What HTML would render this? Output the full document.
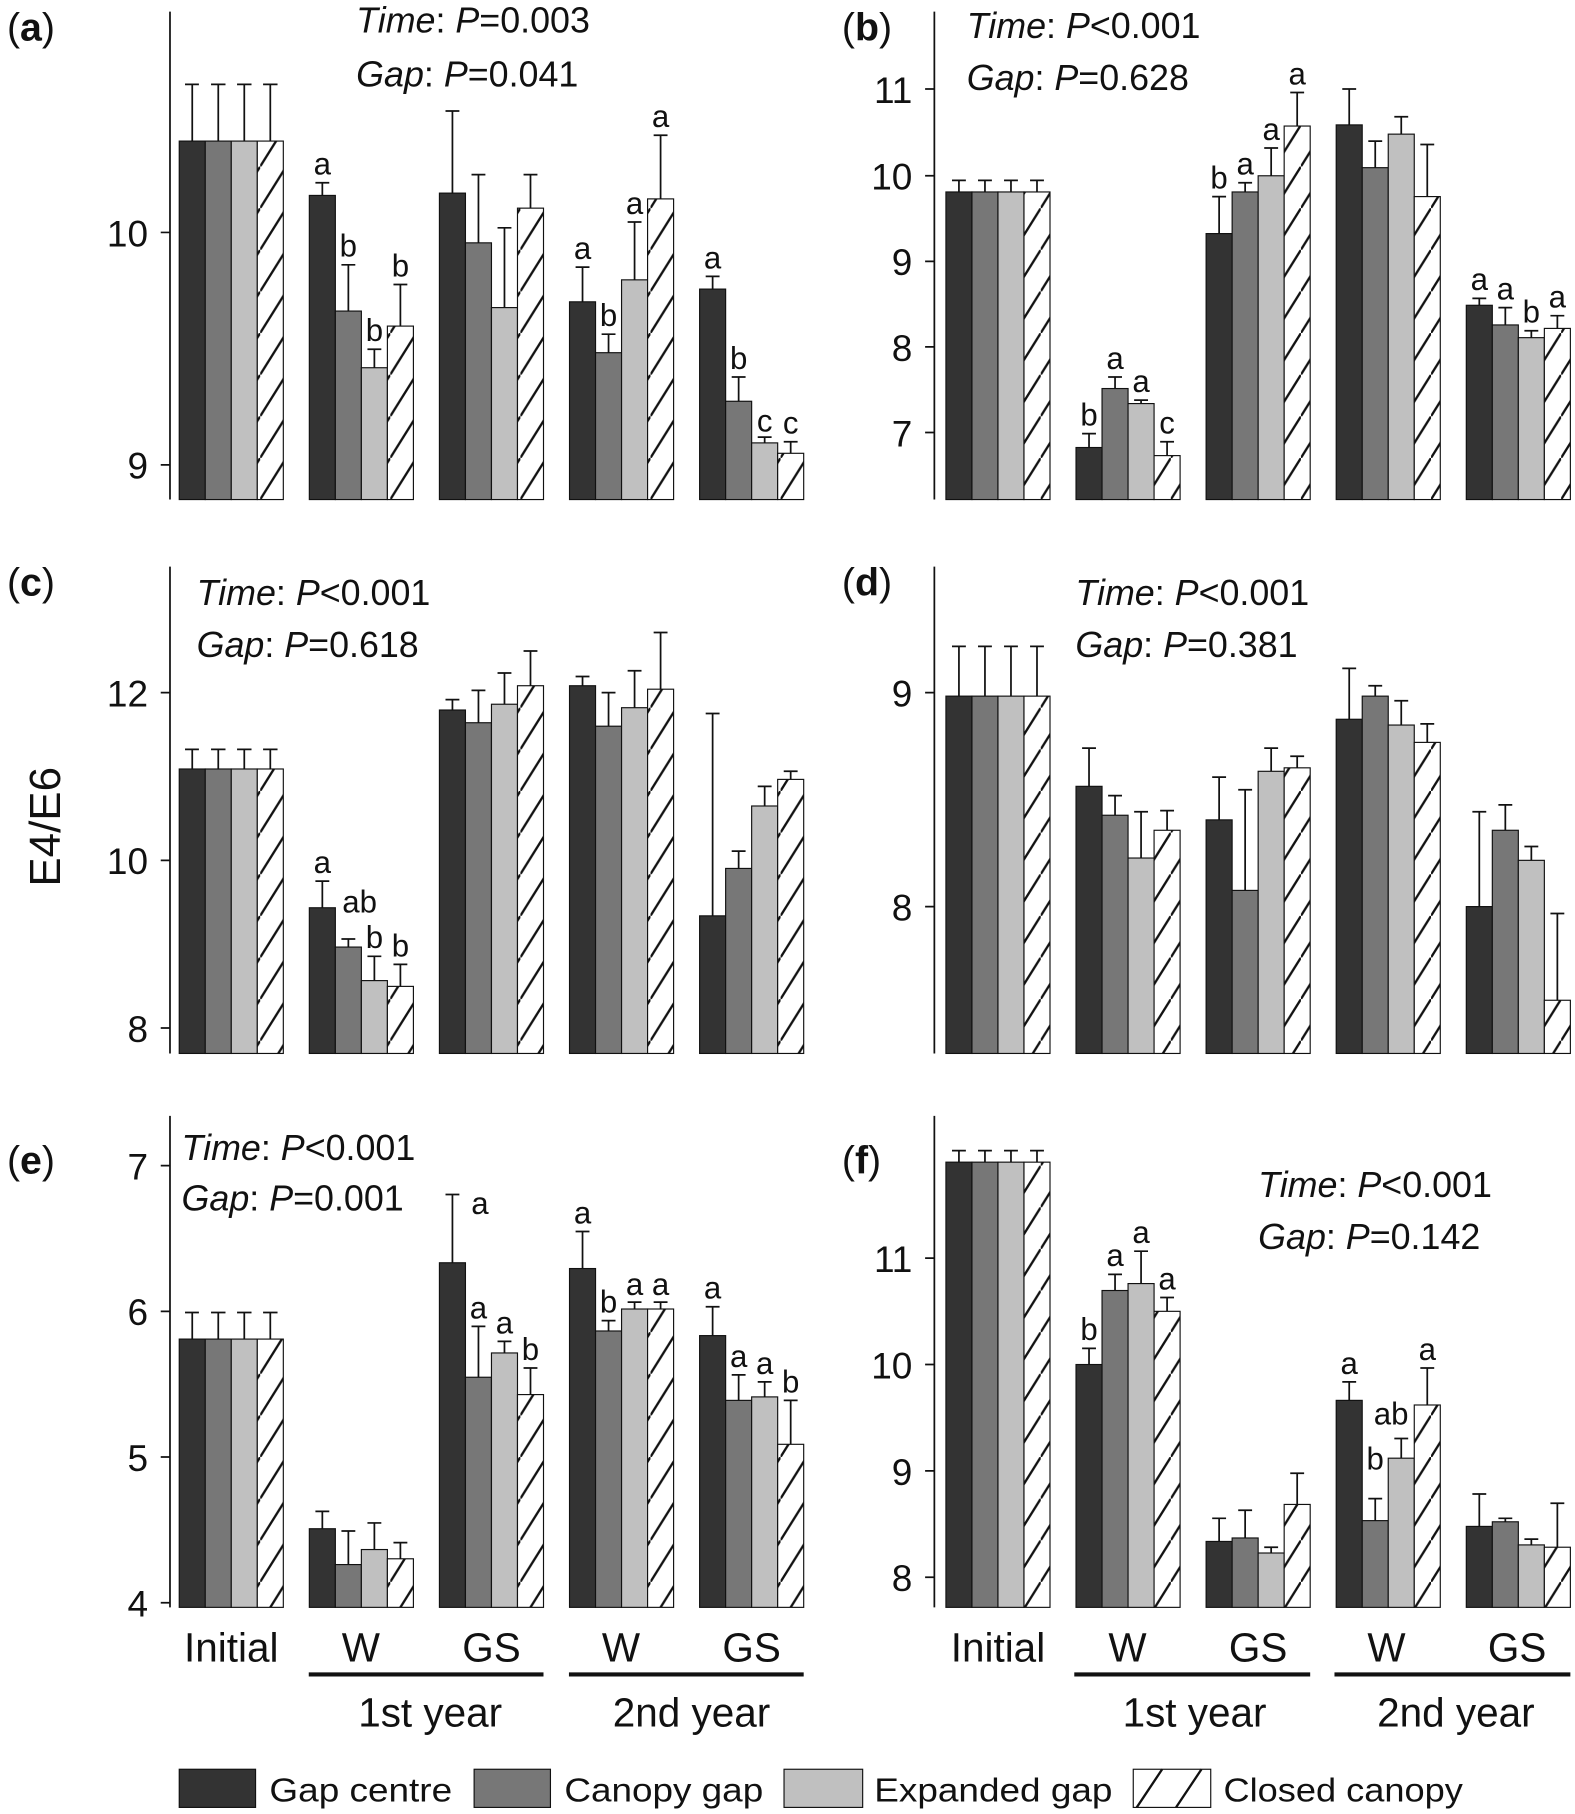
<!DOCTYPE html>
<html><head><meta charset="utf-8"><style>
html,body{margin:0;padding:0;background:#fff}
svg{display:block}
text{font-family:"Liberation Sans",Arial,sans-serif;fill:#111}
.c0{fill:#333;stroke:#111;stroke-width:1}
.c1{fill:#777;stroke:#111;stroke-width:1}
.c2{fill:#c0c0c0;stroke:#111;stroke-width:1}
.c3{fill:url(#h);stroke:#111;stroke-width:1}
.e{stroke:#111;stroke-width:1.5;fill:none}
.ax{stroke:#111;stroke-width:1.5;fill:none}
.l{font-size:27px;text-anchor:middle}
.t{font-size:32px;text-anchor:end}
.p{font-size:31px}
.x{font-size:35px;text-anchor:middle}
.lg{font-size:29px}
</style></head><body>
<svg width="1575" height="1814" viewBox="0 0 1362 1568.7" preserveAspectRatio="none" xmlns="http://www.w3.org/2000/svg">
<defs><pattern id="h" patternUnits="userSpaceOnUse" width="22.5" height="36"><rect width="22.5" height="36" fill="#fff"/><path d="M0,36 L22.5,0" stroke="#111" stroke-width="2"/></pattern></defs>

<!-- Panel a -->
<text x="6" y="35" style="font-size:34px">(<tspan font-weight="bold">a</tspan>)</text>
<text x="308" y="28" class="p"><tspan font-style="italic">Time</tspan>: <tspan font-style="italic">P</tspan>=0.003</text>
<text x="308" y="75" class="p"><tspan font-style="italic">Gap</tspan>: <tspan font-style="italic">P</tspan>=0.041</text>
<path class="ax" d="M147,10V432M139,201H147M139,402H147"/>
<text x="128" y="213" class="t">10</text><text x="128" y="414" class="t">9</text>
<rect class="c0" x="155" y="122" width="22.5" height="310"/><rect class="c1" x="177.5" y="122" width="22.5" height="310"/><rect class="c2" x="200" y="122" width="22.5" height="310"/><rect class="c3" x="222.5" y="122" width="22.5" height="310"/>
<path class="e" d="M166.25,73V122M160,73H172M188.75,73V122M182.5,73H195M211.25,73V122M205,73H217.5M233.75,73V122M227.5,73H240"/>
<rect class="c0" x="267.5" y="169" width="22.5" height="263"/><rect class="c1" x="290" y="269" width="22.5" height="163"/><rect class="c2" x="312.5" y="318" width="22.5" height="114"/><rect class="c3" x="335" y="282" width="22.5" height="150"/>
<path class="e" d="M278.75,158V169M272.75,158H284.75M301.25,229V269M295.25,229H307.25M323.75,302V318M317.75,302H329.75M346.25,246V282M340.25,246H352.25"/>
<text class="l" x="278.75" y="151">a</text><text class="l" x="301.25" y="222">b</text><text class="l" x="323.75" y="295">b</text><text class="l" x="346.25" y="239">b</text>
<rect class="c0" x="380" y="167" width="22.5" height="265"/><rect class="c1" x="402.5" y="210" width="22.5" height="222"/><rect class="c2" x="425" y="266" width="22.5" height="166"/><rect class="c3" x="447.5" y="180" width="22.5" height="252"/>
<path class="e" d="M391.25,96V167M385.25,96H397.25M413.75,151V210M407.75,151H419.75M436.25,197V266M430.25,197H442.25M458.75,151V180M452.75,151H464.75"/>
<rect class="c0" x="492.5" y="261" width="22.5" height="171"/><rect class="c1" x="515" y="305" width="22.5" height="127"/><rect class="c2" x="537.5" y="242" width="22.5" height="190"/><rect class="c3" x="560" y="172" width="22.5" height="260"/>
<path class="e" d="M503.75,231V261M497.75,231H509.75M526.25,289V305M520.25,289H532.25M548.75,192V242M542.75,192H554.75M571.25,117V172M565.25,117H577.25"/>
<text class="l" x="503.75" y="224">a</text><text class="l" x="526.25" y="282">b</text><text class="l" x="548.75" y="185">a</text><text class="l" x="571.25" y="110">a</text>
<rect class="c0" x="605" y="250" width="22.5" height="182"/><rect class="c1" x="627.5" y="347" width="22.5" height="85"/><rect class="c2" x="650" y="383" width="22.5" height="49"/><rect class="c3" x="672.5" y="392" width="22.5" height="40"/>
<path class="e" d="M616.25,239V250M610.25,239H622.25M638.75,326V347M632.75,326H644.75M661.25,378V383M655.25,378H667.25M683.75,382V392M677.75,382H689.75"/>
<text class="l" x="616.25" y="232">a</text><text class="l" x="638.75" y="319">b</text><text class="l" x="661.25" y="373">c</text><text class="l" x="683.75" y="375">c</text>

<!-- Panel b -->
<text x="728" y="35" style="font-size:34px">(<tspan font-weight="bold">b</tspan>)</text>
<text x="836" y="33" class="p"><tspan font-style="italic">Time</tspan>: <tspan font-style="italic">P</tspan>&lt;0.001</text>
<text x="836" y="78" class="p"><tspan font-style="italic">Gap</tspan>: <tspan font-style="italic">P</tspan>=0.628</text>
<path class="ax" d="M808,10V432M800,77H808M800,152H808M800,226H808M800,300H808M800,374H808"/>
<text x="789" y="89" class="t">11</text><text x="789" y="164" class="t">10</text><text x="789" y="238" class="t">9</text><text x="789" y="312" class="t">8</text><text x="789" y="386" class="t">7</text>
<rect class="c0" x="818" y="166" width="22.5" height="266"/><rect class="c1" x="840.5" y="166" width="22.5" height="266"/><rect class="c2" x="863" y="166" width="22.5" height="266"/><rect class="c3" x="885.5" y="166" width="22.5" height="266"/>
<path class="e" d="M829.25,156V166M823.25,156H835.25M851.75,156V166M845.75,156H857.75M874.25,156V166M868.25,156H880.25M896.75,156V166M890.75,156H902.75"/>
<rect class="c0" x="930.5" y="387" width="22.5" height="45"/><rect class="c1" x="953" y="336" width="22.5" height="96"/><rect class="c2" x="975.5" y="349" width="22.5" height="83"/><rect class="c3" x="998" y="394" width="22.5" height="38"/>
<path class="e" d="M941.75,375V387M935.75,375H947.75M964.25,326V336M958.25,326H970.25M986.75,346V349M980.75,346H992.75M1009.25,382V394M1003.25,382H1015.25"/>
<text class="l" x="941.75" y="368">b</text><text class="l" x="964.25" y="319">a</text><text class="l" x="986.75" y="339">a</text><text class="l" x="1009.25" y="375">c</text>
<rect class="c0" x="1043" y="202" width="22.5" height="230"/><rect class="c1" x="1065.5" y="166" width="22.5" height="266"/><rect class="c2" x="1088" y="152" width="22.5" height="280"/><rect class="c3" x="1110.5" y="109" width="22.5" height="323"/>
<path class="e" d="M1054.25,170V202M1048.25,170H1060.25M1076.75,158V166M1070.75,158H1082.75M1099.25,128V152M1093.25,128H1105.25M1121.75,80V109M1115.75,80H1127.75"/>
<text class="l" x="1054.25" y="163">b</text><text class="l" x="1076.75" y="151">a</text><text class="l" x="1099.25" y="121">a</text><text class="l" x="1121.75" y="73">a</text>
<rect class="c0" x="1155.5" y="108" width="22.5" height="324"/><rect class="c1" x="1178" y="145" width="22.5" height="287"/><rect class="c2" x="1200.5" y="116" width="22.5" height="316"/><rect class="c3" x="1223" y="170" width="22.5" height="262"/>
<path class="e" d="M1166.75,77V108M1160.75,77H1172.75M1189.25,122V145M1183.25,122H1195.25M1211.75,101V116M1205.75,101H1217.75M1234.25,125V170M1228.25,125H1240.25"/>
<rect class="c0" x="1268" y="264" width="22.5" height="168"/><rect class="c1" x="1290.5" y="281" width="22.5" height="151"/><rect class="c2" x="1313" y="292" width="22.5" height="140"/><rect class="c3" x="1335.5" y="284" width="22.5" height="148"/>
<path class="e" d="M1279.25,258V264M1273.25,258H1285.25M1301.75,266V281M1295.75,266H1307.75M1324.25,286V292M1318.25,286H1330.25M1346.75,273V284M1340.75,273H1352.75"/>
<text class="l" x="1279.25" y="251">a</text><text class="l" x="1301.75" y="259">a</text><text class="l" x="1324.25" y="279">b</text><text class="l" x="1346.75" y="266">a</text>

<!-- Panel c -->
<text x="6" y="515" style="font-size:34px">(<tspan font-weight="bold">c</tspan>)</text>
<text x="170" y="523" class="p"><tspan font-style="italic">Time</tspan>: <tspan font-style="italic">P</tspan>&lt;0.001</text>
<text x="170" y="568" class="p"><tspan font-style="italic">Gap</tspan>: <tspan font-style="italic">P</tspan>=0.618</text>
<text transform="translate(52,715) rotate(-90)" style="font-size:38px;text-anchor:middle">E4/E6</text>
<path class="ax" d="M147,490V911M139,599H147M139,744H147M139,889H147"/>
<text x="128" y="611" class="t">12</text><text x="128" y="756" class="t">10</text><text x="128" y="901" class="t">8</text>
<rect class="c0" x="155" y="665" width="22.5" height="246"/><rect class="c1" x="177.5" y="665" width="22.5" height="246"/><rect class="c2" x="200" y="665" width="22.5" height="246"/><rect class="c3" x="222.5" y="665" width="22.5" height="246"/>
<path class="e" d="M166.25,648V665M160,648H172M188.75,648V665M182.5,648H195M211.25,648V665M205,648H217.5M233.75,648V665M227.5,648H240"/>
<rect class="c0" x="267.5" y="785" width="22.5" height="126"/><rect class="c1" x="290" y="819" width="22.5" height="92"/><rect class="c2" x="312.5" y="848" width="22.5" height="63"/><rect class="c3" x="335" y="853" width="22.5" height="58"/>
<path class="e" d="M278.75,762V785M272.75,762H284.75M301.25,812V819M295.25,812H307.25M323.75,827V848M317.75,827H329.75M346.25,834V853M340.25,834H352.25"/>
<text class="l" x="278.75" y="755">a</text><text class="l" x="311" y="789">ab</text><text class="l" x="323.75" y="820">b</text><text class="l" x="346.25" y="827">b</text>
<rect class="c0" x="380" y="614" width="22.5" height="297"/><rect class="c1" x="402.5" y="625" width="22.5" height="286"/><rect class="c2" x="425" y="609" width="22.5" height="302"/><rect class="c3" x="447.5" y="593" width="22.5" height="318"/>
<path class="e" d="M391.25,605V614M385.25,605H397.25M413.75,597V625M407.75,597H419.75M436.25,582V609M430.25,582H442.25M458.75,563V593M452.75,563H464.75"/>
<rect class="c0" x="492.5" y="593" width="22.5" height="318"/><rect class="c1" x="515" y="628" width="22.5" height="283"/><rect class="c2" x="537.5" y="612" width="22.5" height="299"/><rect class="c3" x="560" y="596" width="22.5" height="315"/>
<path class="e" d="M503.75,585V593M497.75,585H509.75M526.25,599V628M520.25,599H532.25M548.75,580V612M542.75,580H554.75M571.25,547V596M565.25,547H577.25"/>
<rect class="c0" x="605" y="792" width="22.5" height="119"/><rect class="c1" x="627.5" y="751" width="22.5" height="160"/><rect class="c2" x="650" y="697" width="22.5" height="214"/><rect class="c3" x="672.5" y="674" width="22.5" height="237"/>
<path class="e" d="M616.25,617V792M610.25,617H622.25M638.75,736V751M632.75,736H644.75M661.25,680V697M655.25,680H667.25M683.75,667V674M677.75,667H689.75"/>

<!-- Panel d -->
<text x="728" y="515" style="font-size:34px">(<tspan font-weight="bold">d</tspan>)</text>
<text x="930" y="523" class="p"><tspan font-style="italic">Time</tspan>: <tspan font-style="italic">P</tspan>&lt;0.001</text>
<text x="930" y="568" class="p"><tspan font-style="italic">Gap</tspan>: <tspan font-style="italic">P</tspan>=0.381</text>
<path class="ax" d="M808,490V911M800,599H808M800,784H808"/>
<text x="789" y="611" class="t">9</text><text x="789" y="796" class="t">8</text>
<rect class="c0" x="818" y="602" width="22.5" height="309"/><rect class="c1" x="840.5" y="602" width="22.5" height="309"/><rect class="c2" x="863" y="602" width="22.5" height="309"/><rect class="c3" x="885.5" y="602" width="22.5" height="309"/>
<path class="e" d="M829.25,559V602M823.25,559H835.25M851.75,559V602M845.75,559H857.75M874.25,559V602M868.25,559H880.25M896.75,559V602M890.75,559H902.75"/>
<rect class="c0" x="930.5" y="680" width="22.5" height="231"/><rect class="c1" x="953" y="705" width="22.5" height="206"/><rect class="c2" x="975.5" y="742" width="22.5" height="169"/><rect class="c3" x="998" y="718" width="22.5" height="193"/>
<path class="e" d="M941.75,647V680M935.75,647H947.75M964.25,688V705M958.25,688H970.25M986.75,702V742M980.75,702H992.75M1009.25,701V718M1003.25,701H1015.25"/>
<rect class="c0" x="1043" y="709" width="22.5" height="202"/><rect class="c1" x="1065.5" y="770" width="22.5" height="141"/><rect class="c2" x="1088" y="667" width="22.5" height="244"/><rect class="c3" x="1110.5" y="664" width="22.5" height="247"/>
<path class="e" d="M1054.25,672V709M1048.25,672H1060.25M1076.75,683V770M1070.75,683H1082.75M1099.25,647V667M1093.25,647H1105.25M1121.75,654V664M1115.75,654H1127.75"/>
<rect class="c0" x="1155.5" y="622" width="22.5" height="289"/><rect class="c1" x="1178" y="602" width="22.5" height="309"/><rect class="c2" x="1200.5" y="627" width="22.5" height="284"/><rect class="c3" x="1223" y="642" width="22.5" height="269"/>
<path class="e" d="M1166.75,578V622M1160.75,578H1172.75M1189.25,593V602M1183.25,593H1195.25M1211.75,606V627M1205.75,606H1217.75M1234.25,626V642M1228.25,626H1240.25"/>
<rect class="c0" x="1268" y="784" width="22.5" height="127"/><rect class="c1" x="1290.5" y="718" width="22.5" height="193"/><rect class="c2" x="1313" y="744" width="22.5" height="167"/><rect class="c3" x="1335.5" y="865" width="22.5" height="46"/>
<path class="e" d="M1279.25,702V784M1273.25,702H1285.25M1301.75,696V718M1295.75,696H1307.75M1324.25,732V744M1318.25,732H1330.25M1346.75,790V865M1340.75,790H1352.75"/>

<!-- Panel e -->
<text x="6" y="1015" style="font-size:34px">(<tspan font-weight="bold">e</tspan>)</text>
<text x="157" y="1003" class="p"><tspan font-style="italic">Time</tspan>: <tspan font-style="italic">P</tspan>&lt;0.001</text>
<text x="157" y="1047" class="p"><tspan font-style="italic">Gap</tspan>: <tspan font-style="italic">P</tspan>=0.001</text>
<path class="ax" d="M147,965V1390M139,1008H147M139,1134H147M139,1260H147M139,1386H147"/>
<text x="128" y="1020" class="t">7</text><text x="128" y="1146" class="t">6</text><text x="128" y="1272" class="t">5</text><text x="128" y="1398" class="t">4</text>
<rect class="c0" x="155" y="1158" width="22.5" height="232"/><rect class="c1" x="177.5" y="1158" width="22.5" height="232"/><rect class="c2" x="200" y="1158" width="22.5" height="232"/><rect class="c3" x="222.5" y="1158" width="22.5" height="232"/>
<path class="e" d="M166.25,1135V1158M160,1135H172M188.75,1135V1158M182.5,1135H195M211.25,1135V1158M205,1135H217.5M233.75,1135V1158M227.5,1135H240"/>
<rect class="c0" x="267.5" y="1322" width="22.5" height="68"/><rect class="c1" x="290" y="1353" width="22.5" height="37"/><rect class="c2" x="312.5" y="1340" width="22.5" height="50"/><rect class="c3" x="335" y="1348" width="22.5" height="42"/>
<path class="e" d="M278.75,1307V1322M272.75,1307H284.75M301.25,1324V1353M295.25,1324H307.25M323.75,1317V1340M317.75,1317H329.75M346.25,1334V1348M340.25,1334H352.25"/>
<rect class="c0" x="380" y="1092" width="22.5" height="298"/><rect class="c1" x="402.5" y="1191" width="22.5" height="199"/><rect class="c2" x="425" y="1170" width="22.5" height="220"/><rect class="c3" x="447.5" y="1206" width="22.5" height="184"/>
<path class="e" d="M391.25,1033V1092M385.25,1033H397.25M413.75,1147V1191M407.75,1147H419.75M436.25,1160V1170M430.25,1160H442.25M458.75,1183V1206M452.75,1183H464.75"/>
<text class="l" x="415" y="1050">a</text><text class="l" x="413.75" y="1140">a</text><text class="l" x="436.25" y="1153">a</text><text class="l" x="458.75" y="1176">b</text>
<rect class="c0" x="492.5" y="1097" width="22.5" height="293"/><rect class="c1" x="515" y="1151" width="22.5" height="239"/><rect class="c2" x="537.5" y="1132" width="22.5" height="258"/><rect class="c3" x="560" y="1132" width="22.5" height="258"/>
<path class="e" d="M503.75,1065V1097M497.75,1065H509.75M526.25,1142V1151M520.25,1142H532.25M548.75,1126V1132M542.75,1126H554.75M571.25,1126V1132M565.25,1126H577.25"/>
<text class="l" x="503.75" y="1058">a</text><text class="l" x="526.25" y="1135">b</text><text class="l" x="548.75" y="1120">a</text><text class="l" x="571.25" y="1120">a</text>
<rect class="c0" x="605" y="1155" width="22.5" height="235"/><rect class="c1" x="627.5" y="1211" width="22.5" height="179"/><rect class="c2" x="650" y="1208" width="22.5" height="182"/><rect class="c3" x="672.5" y="1249" width="22.5" height="141"/>
<path class="e" d="M616.25,1130V1155M610.25,1130H622.25M638.75,1189V1211M632.75,1189H644.75M661.25,1195V1208M655.25,1195H667.25M683.75,1211V1249M677.75,1211H689.75"/>
<text class="l" x="616.25" y="1123">a</text><text class="l" x="638.75" y="1182">a</text><text class="l" x="661.25" y="1188">a</text><text class="l" x="683.75" y="1204">b</text>

<!-- Panel f -->
<text x="728" y="1015" style="font-size:34px">(<tspan font-weight="bold">f</tspan>)</text>
<text x="1088" y="1035" class="p"><tspan font-style="italic">Time</tspan>: <tspan font-style="italic">P</tspan>&lt;0.001</text>
<text x="1088" y="1080" class="p"><tspan font-style="italic">Gap</tspan>: <tspan font-style="italic">P</tspan>=0.142</text>
<path class="ax" d="M808,965V1390M800,1088H808M800,1180H808M800,1272H808M800,1364H808"/>
<text x="789" y="1100" class="t">11</text><text x="789" y="1192" class="t">10</text><text x="789" y="1284" class="t">9</text><text x="789" y="1376" class="t">8</text>
<rect class="c0" x="818" y="1005" width="22.5" height="385"/><rect class="c1" x="840.5" y="1005" width="22.5" height="385"/><rect class="c2" x="863" y="1005" width="22.5" height="385"/><rect class="c3" x="885.5" y="1005" width="22.5" height="385"/>
<path class="e" d="M829.25,995V1005M823.25,995H835.25M851.75,995V1005M845.75,995H857.75M874.25,995V1005M868.25,995H880.25M896.75,995V1005M890.75,995H902.75"/>
<rect class="c0" x="930.5" y="1180" width="22.5" height="210"/><rect class="c1" x="953" y="1116" width="22.5" height="274"/><rect class="c2" x="975.5" y="1110" width="22.5" height="280"/><rect class="c3" x="998" y="1134" width="22.5" height="256"/>
<path class="e" d="M941.75,1166V1180M935.75,1166H947.75M964.25,1102V1116M958.25,1102H970.25M986.75,1082V1110M980.75,1082H992.75M1009.25,1122V1134M1003.25,1122H1015.25"/>
<text class="l" x="941.75" y="1159">b</text><text class="l" x="964.25" y="1095">a</text><text class="l" x="986.75" y="1075">a</text><text class="l" x="1009.25" y="1115">a</text>
<rect class="c0" x="1043" y="1333" width="22.5" height="57"/><rect class="c1" x="1065.5" y="1330" width="22.5" height="60"/><rect class="c2" x="1088" y="1343" width="22.5" height="47"/><rect class="c3" x="1110.5" y="1301" width="22.5" height="89"/>
<path class="e" d="M1054.25,1313V1333M1048.25,1313H1060.25M1076.75,1306V1330M1070.75,1306H1082.75M1099.25,1338V1343M1093.25,1338H1105.25M1121.75,1274V1301M1115.75,1274H1127.75"/>
<rect class="c0" x="1155.5" y="1211" width="22.5" height="179"/><rect class="c1" x="1178" y="1315" width="22.5" height="75"/><rect class="c2" x="1200.5" y="1261" width="22.5" height="129"/><rect class="c3" x="1223" y="1215" width="22.5" height="175"/>
<path class="e" d="M1166.75,1195V1211M1160.75,1195H1172.75M1189.25,1296V1315M1183.25,1296H1195.25M1211.75,1244V1261M1205.75,1244H1217.75M1234.25,1183V1215M1228.25,1183H1240.25"/>
<text class="l" x="1166.75" y="1188">a</text><text class="l" x="1189.25" y="1271">b</text><text class="l" x="1203" y="1232">ab</text><text class="l" x="1234.25" y="1176">a</text>
<rect class="c0" x="1268" y="1320" width="22.5" height="70"/><rect class="c1" x="1290.5" y="1316" width="22.5" height="74"/><rect class="c2" x="1313" y="1336" width="22.5" height="54"/><rect class="c3" x="1335.5" y="1338" width="22.5" height="52"/>
<path class="e" d="M1279.25,1292V1320M1273.25,1292H1285.25M1301.75,1313V1316M1295.75,1313H1307.75M1324.25,1331V1336M1318.25,1331H1330.25M1346.75,1300V1338M1340.75,1300H1352.75"/>

<!-- x labels -->
<text class="x" x="200" y="1437">Initial</text><text class="x" x="312" y="1437">W</text><text class="x" x="425" y="1437">GS</text><text class="x" x="537" y="1437">W</text><text class="x" x="650" y="1437">GS</text>
<text class="x" x="863" y="1437">Initial</text><text class="x" x="975" y="1437">W</text><text class="x" x="1088" y="1437">GS</text><text class="x" x="1199" y="1437">W</text><text class="x" x="1312" y="1437">GS</text>
<path d="M267,1448H470M492,1448H695M929,1448H1133M1154,1448H1358" stroke="#111" stroke-width="3.5"/>
<text class="x" x="372" y="1493">1st year</text><text class="x" x="598" y="1493">2nd year</text>
<text class="x" x="1033" y="1493">1st year</text><text class="x" x="1259" y="1493">2nd year</text>

<!-- legend -->
<rect class="c0" x="155" y="1530" width="66" height="33"/><text class="lg" x="233" y="1558" textLength="158" lengthAdjust="spacingAndGlyphs">Gap centre</text>
<rect class="c1" x="410" y="1530" width="66" height="33"/><text class="lg" x="488" y="1558" textLength="172" lengthAdjust="spacingAndGlyphs">Canopy gap</text>
<rect class="c2" x="678" y="1530" width="68" height="33"/><text class="lg" x="756" y="1558" textLength="206" lengthAdjust="spacingAndGlyphs">Expanded gap</text>
<rect x="980" y="1530" width="67" height="33" fill="#fff" stroke="#111"/><path d="M983,1563L1005,1530M1017,1563L1039,1530" stroke="#111" stroke-width="2"/><text class="lg" x="1058" y="1558" textLength="207" lengthAdjust="spacingAndGlyphs">Closed canopy</text>
</svg>
</body></html>
